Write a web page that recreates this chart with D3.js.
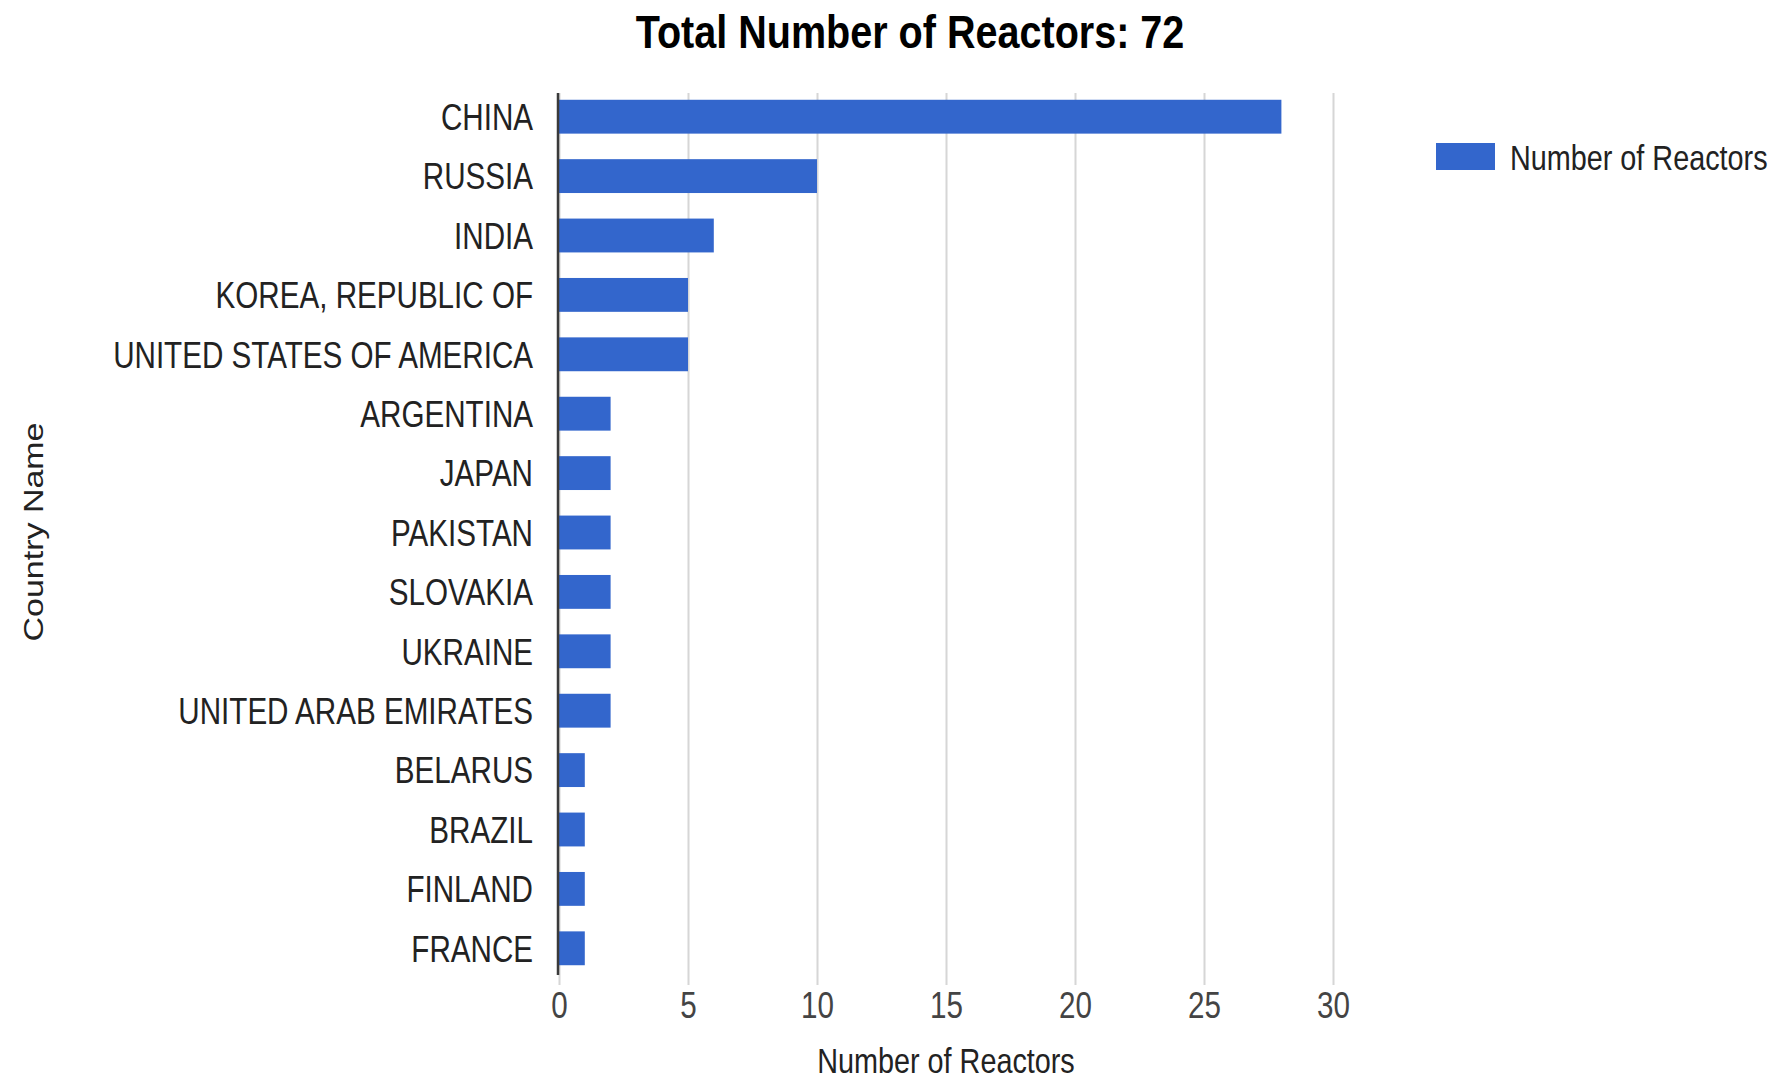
<!DOCTYPE html>
<html>
<head>
<meta charset="utf-8">
<script src="https://cdn.jsdelivr.net/npm/d3@7"></script>
<style>
  html, body { margin: 0; padding: 0; background: #fff; }
  #content { width: 1779px; height: 1082px; }
  text { font-family: "Liberation Sans", Arial, sans-serif; }
</style>
</head>
<body>
<div id="content"></div>
<script>
var categories = ["CHINA", "RUSSIA", "INDIA", "KOREA, REPUBLIC OF", "UNITED STATES OF AMERICA",
    "ARGENTINA", "JAPAN", "PAKISTAN", "SLOVAKIA", "UKRAINE", "UNITED ARAB EMIRATES",
    "BELARUS", "BRAZIL", "FINLAND", "FRANCE"];
var reactors = [28, 10, 6, 5, 5, 2, 2, 2, 2, 2, 2, 1, 1, 1, 1];
var xTicks = [0, 5, 10, 15, 20, 25, 30];
var titleText = "Total Number of Reactors: 72";
var seriesName = "Number of Reactors";

(function(d3) {
    var width = 1779, height = 1082;
    var squeeze = 0.8; // the source picture is squashed sideways
    var barColor = "#3366cc";

    var svg = d3.select("#content").append("svg")
        .attr("viewBox", [0, 0, width, height])
        .attr("width", width).attr("height", height);

    var x = d3.scaleLinear().domain([0, 30]).range([559, 1333]);
    var y = d3.scaleBand().domain(categories).range([87, 978])
        .paddingInner(0.43).paddingOuter(0.215);

    // gridlines + tick labels
    var gridBottom = 985;
    var xAxis = svg.append("g")
        .attr("class", "axis xaxis")
        .attr("transform", "translate(0," + gridBottom + ")")
        .call(d3.axisBottom(x).tickValues(xTicks).tickSize(-(gridBottom - 93)));
    xAxis.select(".domain").remove();
    xAxis.selectAll("line").attr("stroke", "#d6d6d6").attr("stroke-width", 2);
    xAxis.selectAll("text")
        .attr("y", null).attr("dy", null)
        .attr("transform", "translate(0,33) scale(" + squeeze + ",1)")
        .attr("font-size", 37).attr("fill", "#444")
        .attr("font-family", "Liberation Sans, Arial, sans-serif");

    // bars
    svg.append("g").selectAll("rect")
        .data(categories)
        .join("rect")
        .attr("x", x(0))
        .attr("y", function(d) { return y(d); })
        .attr("width", function(d, i) { return x(reactors[i]) - x(0); })
        .attr("height", y.bandwidth())
        .attr("fill", barColor);

    // category labels
    var yAxis = svg.append("g")
        .attr("class", "axis yaxis")
        .attr("transform", "translate(558,0)")
        .call(d3.axisLeft(y).tickSize(0).tickPadding(0));
    yAxis.select(".domain").remove();
    yAxis.selectAll("text")
        .attr("x", -25 / squeeze).attr("dy", "0.36em")
        .attr("transform", "scale(" + squeeze + ",1)")
        .attr("font-size", 37).attr("fill", "#222")
        .attr("font-family", "Liberation Sans, Arial, sans-serif");

    // baseline axis line
    svg.append("line")
        .attr("x1", 558).attr("x2", 558).attr("y1", 93).attr("y2", 975)
        .attr("stroke", "#3a3a3a").attr("stroke-width", 2.5);

    // title
    svg.append("text")
        .attr("transform", "translate(910,48) scale(0.86,1)")
        .attr("text-anchor", "middle")
        .attr("font-size", 46).attr("font-weight", "bold").attr("fill", "#000")
        .text(titleText);

    // x axis title
    svg.append("text")
        .attr("transform", "translate(946,1073) scale(" + squeeze + ",1)")
        .attr("text-anchor", "middle")
        .attr("font-size", 36).attr("fill", "#222")
        .text(seriesName);

    // y axis title
    svg.append("text")
        .attr("transform", "translate(43,532) scale(" + squeeze + ",1) rotate(-90)")
        .attr("text-anchor", "middle")
        .attr("font-size", 34).attr("fill", "#222")
        .text("Country Name");

    // legend
    var legend = svg.append("g").attr("transform", "translate(1436,143)");
    legend.append("rect").attr("width", 59).attr("height", 27).attr("fill", barColor);
    legend.append("text")
        .attr("transform", "translate(74,27) scale(" + squeeze + ",1)")
        .attr("font-size", 36).attr("fill", "#222")
        .text(seriesName);
})(d3);
</script>
</body>
</html>
